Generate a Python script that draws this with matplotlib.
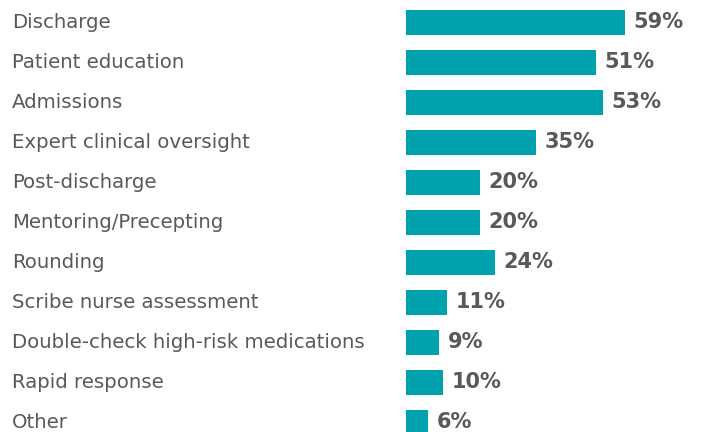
import matplotlib.pyplot as plt
from matplotlib.transforms import blended_transform_factory

categories = ['Discharge', 'Patient education', 'Admissions', 'Expert clinical oversight',
              'Post-discharge', 'Mentoring/Precepting', 'Rounding', 'Scribe nurse assessment',
              'Double-check high-risk medications', 'Rapid response', 'Other']
values = [59, 51, 53, 35, 20, 20, 24, 11, 9, 10, 6]
value_labels = ['59%', '51%', '53%', '35%', '20%', '20%', '24%', '11%', '9%', '10%', '6%']

bar_color = '#00A3AD'
text_color = '#58595B'

fig = plt.figure(figsize=(7.03, 4.32), dpi=100)
ax = fig.add_axes([406 / 703, 0, 297 / 703, 1])

ypos = list(range(len(categories)))
ax.barh(ypos, values, height=0.625, color=bar_color)
ax.set_xlim(0, 297 / 3.72)
ax.set_ylim((432 - 22.5) / 40, -22.5 / 40)
ax.axis('off')

tr = blended_transform_factory(fig.transFigure, ax.transData)
for y, cat in zip(ypos, categories):
    ax.annotate(cat, (12 / 703, y), xycoords=tr, xytext=(0, 1.5), textcoords='offset points',
                ha='left', va='center_baseline',
                fontsize=14.2, color=text_color, family='DejaVu Sans')

for y, v, lab in zip(ypos, values, value_labels):
    ax.annotate(lab, (v, y), xytext=(6, 1.5), textcoords='offset points',
                ha='left', va='center_baseline', fontsize=15, fontweight='bold',
                color=text_color, family='DejaVu Sans')

fig.savefig('out.png', dpi=100)
